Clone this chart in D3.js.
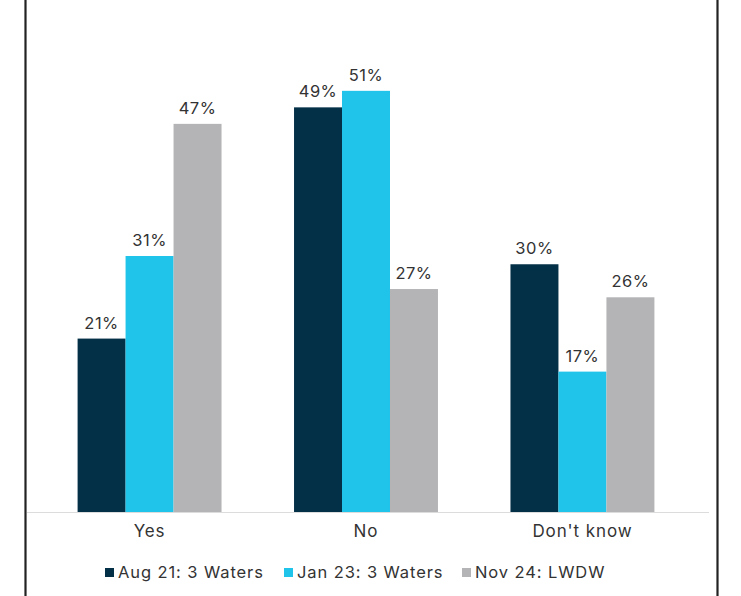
<!DOCTYPE html>
<html><head><meta charset="utf-8">
<script src="https://cdn.jsdelivr.net/npm/d3@7"></script>
<style>body{margin:0;background:#fff}svg{display:block}</style>
</head><body>
<svg id="c" width="741" height="596"></svg>
<script>
const categories = ["Yes", "No", "Don't know"];
const seriesNames = ["Aug 21: 3 Waters", "Jan 23: 3 Waters", "Nov 24: LWDW"];
const aug21 = [21, 49, 30];
const jan23 = [31, 51, 17];
const nov24 = [47, 27, 26];
const colors = ["#032f47", "#20c3ea", "#b4b4b6"];
const series = [aug21, jan23, nov24];

const svg = d3.select("#c");
const font = "Inter, 'Liberation Sans', sans-serif";

// frame lines
svg.append("line").attr("x1",25.5).attr("x2",25.5).attr("y1",0).attr("y2",596).attr("stroke","#222").attr("stroke-width",2.2);
svg.append("line").attr("x1",717.5).attr("x2",717.5).attr("y1",0).attr("y2",596).attr("stroke","#222").attr("stroke-width",2.2);

const x0 = d3.scaleBand().domain(categories).range([25,707]).paddingInner(0.335).paddingOuter(0.243);
const x1 = d3.scaleBand().domain(d3.range(3)).range([0, x0.bandwidth()]);
const y = d3.scaleLinear().domain([0,62]).range([512,0]);

const g = svg.append("g");
categories.forEach((c,i)=>{
  series.forEach((s,j)=>{
    g.append("rect").attr("x",x0(c)+x1(j)).attr("y",y(s[i])).attr("width",x1.bandwidth()).attr("height",y(0)-y(s[i])).attr("fill",colors[j]);
    g.append("text").attr("x",x0(c)+x1(j)+x1.bandwidth()/2).attr("y",y(s[i])-10)
      .attr("text-anchor","middle").attr("font-family",font).attr("font-size",16.5).attr("letter-spacing",0.5).attr("fill","#333").text(s[i]+"%");
  });
});

// baseline
svg.append("line").attr("x1",27).attr("x2",709).attr("y1",512.5).attr("y2",512.5).attr("stroke","#dcdcdc").attr("stroke-width",1.2);

// axis
const ax = svg.append("g").attr("transform","translate(0,512)").call(d3.axisBottom(x0).tickSize(0).tickPadding(13));
ax.select(".domain").remove();
ax.selectAll("text").attr("font-family",font).attr("font-size",17).attr("letter-spacing",0.9).attr("fill","#333");

// legend
const legX = [105, 284, 462];
const lg = svg.append("g");
seriesNames.forEach((n,j)=>{
  lg.append("rect").attr("x",legX[j]).attr("y",568).attr("width",9).attr("height",9).attr("fill",colors[j]);
  lg.append("text").attr("x",legX[j]+13).attr("y",578).attr("font-family",font).attr("font-size",16.5).attr("letter-spacing",0.9).attr("fill","#333").text(n);
});
</script>
</body></html>
